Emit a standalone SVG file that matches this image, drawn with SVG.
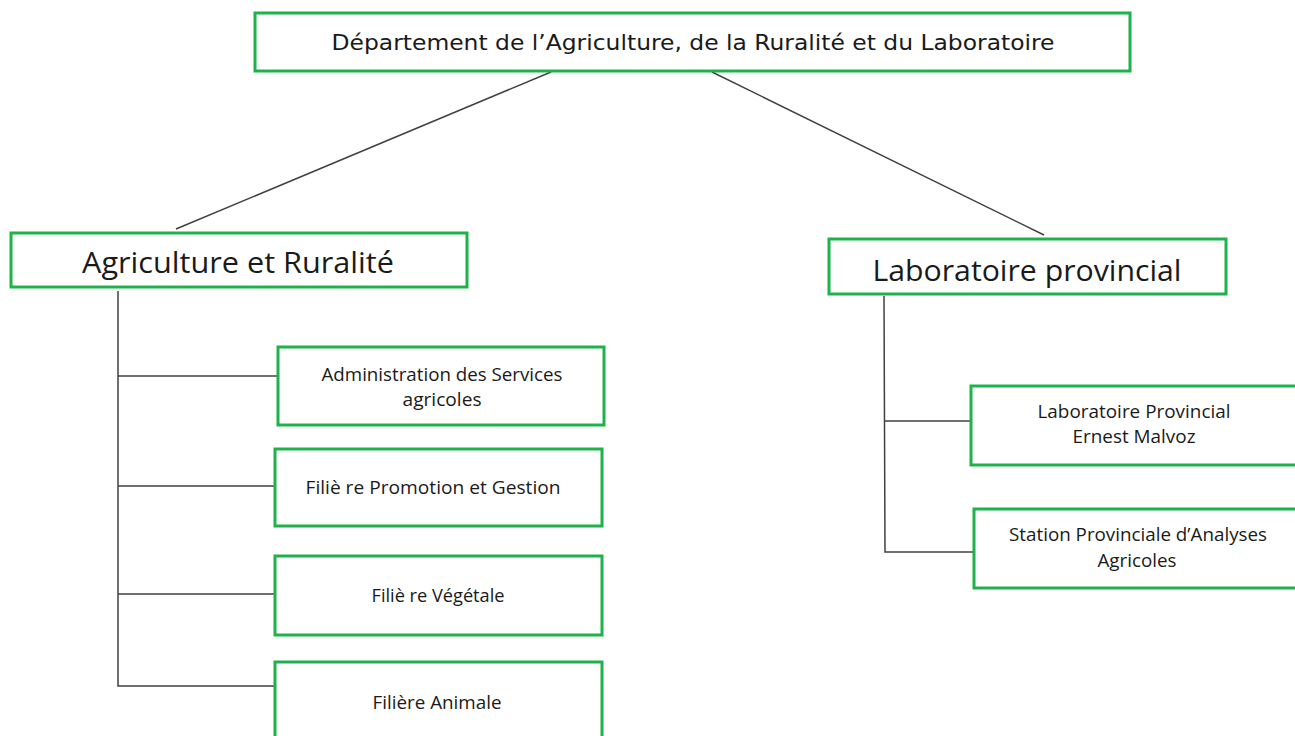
<svg xmlns="http://www.w3.org/2000/svg" width="1295" height="736" viewBox="0 0 1295 736">
<style>
.box{fill:#fff;stroke:#1db34a;stroke-width:3}
.c{stroke:#404040;stroke-width:1.5;fill:none}
text{font-family:"Open Sans","Liberation Sans",sans-serif;fill:#1a1a1a;text-anchor:middle}
.t{font-family:"DejaVu Sans Condensed","DejaVu Sans",sans-serif;font-size:21px}
.l{font-size:30px}
.s{font-size:18px}
</style>
<rect width="1295" height="736" fill="#fff"/>
<g id="connectors">
<line class="c" x1="551" y1="72" x2="176" y2="229"/>
<line class="c" x1="712" y1="72" x2="1044" y2="235"/>
<polyline class="c" points="118,291 118,686 276,686"/>
<line class="c" x1="118" y1="376" x2="278" y2="376"/>
<line class="c" x1="118" y1="486" x2="275" y2="486"/>
<line class="c" x1="118" y1="594" x2="275" y2="594"/>
<polyline class="c" points="884,296 885,552 974,552"/>
<line class="c" x1="884" y1="421" x2="971" y2="421"/>
</g>
<g id="root"><rect class="box" x="255" y="13" width="875" height="58"/>
<text class="t" x="693" y="50" textLength="723" lengthAdjust="spacingAndGlyphs">Département de l’Agriculture, de la Ruralité et du Laboratoire</text></g>
<g id="agri"><rect class="box" x="11" y="233" width="456" height="54"/>
<text class="l" x="238" y="273" textLength="312" lengthAdjust="spacingAndGlyphs">Agriculture et Ruralité</text></g>
<g id="labo"><rect class="box" x="829" y="239" width="397" height="55"/>
<text class="l" x="1027" y="281" textLength="309" lengthAdjust="spacingAndGlyphs">Laboratoire provincial</text></g>
<g id="admin"><rect class="box" x="278" y="347" width="326" height="78"/>
<text class="s" x="442" y="381" textLength="241" lengthAdjust="spacingAndGlyphs">Administration des Services</text>
<text class="s" x="442" y="406" textLength="79" lengthAdjust="spacingAndGlyphs">agricoles</text></g>
<g id="promo"><rect class="box" x="275" y="449" width="327" height="77"/>
<text class="s" x="433" y="494" textLength="255" lengthAdjust="spacingAndGlyphs">Filiè re Promotion et Gestion</text></g>
<g id="vege"><rect class="box" x="275" y="556" width="327" height="79"/>
<text class="s" x="438" y="602" textLength="133" lengthAdjust="spacingAndGlyphs">Filiè re Végétale</text></g>
<g id="anim"><rect class="box" x="275" y="662" width="327" height="90"/>
<text class="s" x="437" y="709" textLength="129" lengthAdjust="spacingAndGlyphs">Filière Animale</text></g>
<g id="labprov"><rect class="box" x="971" y="386" width="340" height="79"/>
<text class="s" x="1134" y="418" textLength="193" lengthAdjust="spacingAndGlyphs">Laboratoire Provincial</text>
<text class="s" x="1134" y="443" textLength="123" lengthAdjust="spacingAndGlyphs">Ernest Malvoz</text></g>
<g id="station"><rect class="box" x="974" y="509" width="340" height="79"/>
<text class="s" x="1138" y="541" textLength="258" lengthAdjust="spacingAndGlyphs">Station Provinciale d’Analyses</text>
<text class="s" x="1137" y="567" textLength="79" lengthAdjust="spacingAndGlyphs">Agricoles</text></g>
</svg>
